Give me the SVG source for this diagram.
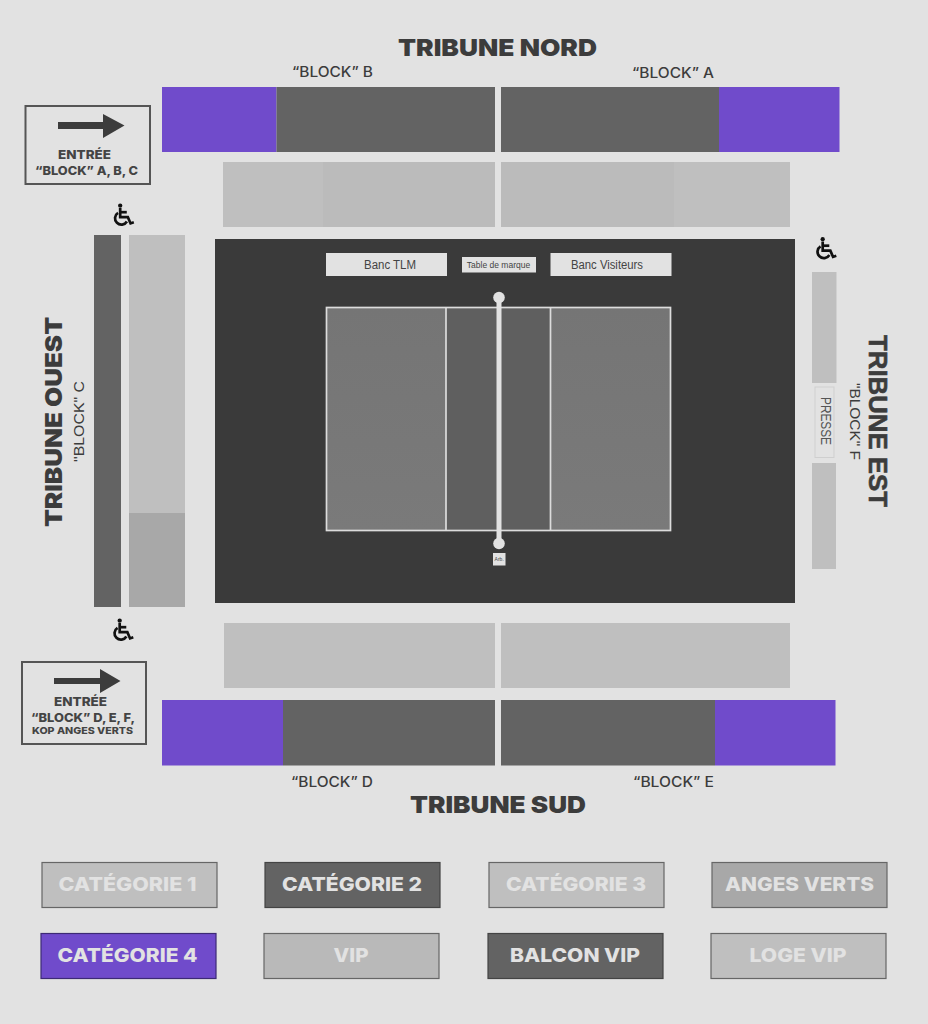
<svg xmlns="http://www.w3.org/2000/svg" xmlns:xlink="http://www.w3.org/1999/xlink" width="928" height="1024" viewBox="0 0 928 1024">
<style>
.purple{fill:#704bcb}.dark{fill:#636363}.light{fill:#bfbfbf}.mid{fill:#a8a8a8}
text{font-family:Inter,"Liberation Sans",sans-serif;fill:#3c3c3c}
.title{font-size:23.5px;font-weight:900}
.block{font-size:14px;font-weight:500}
.arial{font-family:"Liberation Sans",Arial,sans-serif}
.entry{font-size:12px;font-weight:800;text-anchor:middle;fill:#444}
.box{fill:none;stroke:#555;stroke-width:2}
.arrow{fill:#3c3c3c}
.bench{fill:#e2e2e2}
.bt{font-family:"Liberation Sans",Arial,sans-serif;font-size:12px;fill:#444;text-anchor:middle}
.legbox{stroke:#666;stroke-width:1.2}
.legt{font-size:19px;font-weight:800;fill:#e2e2e2;text-anchor:middle}
.cline{fill:none;stroke:#dcdcdc;stroke-width:1.700}
</style>
<defs>
<linearGradient id="courtL" x1="0" y1="0" x2="0" y2="1"><stop offset="0" stop-color="#757575"/><stop offset="1" stop-color="#7a7a7a"/></linearGradient>
<g id="wheelchair" fill="none" stroke="#111" stroke-width="2.500" transform="scale(1.08)">
<circle cx="-2.6" cy="-8.6" r="2" fill="#111" stroke="none"/>
<path d="M-2.6,-6.5V2H4.5L7,7.8L10,6.8"/>
<path d="M-2.6,-2.6H3.5"/>
<path d="M-4.6,-2A5.9,5.9 0 1 0 3.6,6"/>
</g>
</defs>
<rect width="928" height="1024" fill="#e2e2e2"/>

<g id="tribune-nord">
<text class="title" x="398" y="56" textLength="199" lengthAdjust="spacingAndGlyphs">TRIBUNE NORD</text>
<text class="block" x="292" y="77" textLength="81" lengthAdjust="spacingAndGlyphs">“BLOCK” B</text>
<text class="block" x="632" y="78" textLength="82" lengthAdjust="spacingAndGlyphs">“BLOCK” A</text>
<rect class="purple" x="162" y="87" width="114.500" height="65"/>
<rect class="dark" x="276.500" y="87" width="218.500" height="65"/>
<rect class="dark" x="501" y="87" width="218" height="65"/>
<rect class="purple" x="719" y="87" width="120.500" height="65"/>
<rect class="light" x="223" y="162" width="100" height="65"/>
<rect x="323" y="162" width="172" height="65" fill="#bbb"/>
<rect x="501" y="162" width="173" height="65" fill="#bbb"/>
<rect class="light" x="674" y="162" width="116" height="65"/>
</g>

<g id="entree-abc">
<rect class="box" x="25.500" y="106" width="124.500" height="78"/>
<path class="arrow" d="M58,122H103V114L124.500,125.500L103,138V129H58Z"/>
<text class="entry" x="84.500" y="159" textLength="53" lengthAdjust="spacingAndGlyphs">ENTRÉE</text>
<text class="entry" x="86.500" y="175" textLength="103" lengthAdjust="spacingAndGlyphs">“BLOCK” A, B, C</text>
</g>

<g id="pmr-ouest-haut"><use href="#wheelchair" x="123" y="215"/></g>
<g id="pmr-est"><use href="#wheelchair" x="825.500" y="248.500"/></g>
<g id="pmr-ouest-bas"><use href="#wheelchair" x="122.500" y="630"/></g>

<g id="tribune-ouest">
<text class="title" transform="translate(62,527) rotate(-90)" textLength="210" lengthAdjust="spacingAndGlyphs">TRIBUNE OUEST</text>
<text class="block arial" transform="translate(84,462) rotate(-90)" textLength="81" lengthAdjust="spacingAndGlyphs">"BLOCK" C</text>
<rect class="dark" x="94" y="235" width="27" height="372"/>
<rect class="light" x="129" y="235" width="56" height="278"/>
<rect class="mid" x="129" y="513" width="56" height="94"/>
</g>

<g id="terrain">
<rect x="215" y="239" width="580" height="364" fill="#3a3a3a"/>
<g id="banc-tlm"><rect class="bench" x="326" y="253" width="121" height="23"/><text class="bt" x="390" y="269" textLength="52" lengthAdjust="spacingAndGlyphs">Banc TLM</text></g>
<g id="table-marque"><rect class="bench" x="462" y="257" width="74" height="15.500"/><text class="bt" x="498.500" y="268" style="font-size:8.500px">Table de marque</text></g>
<g id="banc-visiteurs"><rect class="bench" x="550.500" y="253" width="121" height="23"/><text class="bt" x="607" y="269" textLength="72" lengthAdjust="spacingAndGlyphs">Banc Visiteurs</text></g>
<rect x="326.500" y="307.500" width="120" height="223" fill="url(#courtL)"/>
<rect x="446.500" y="307.500" width="104" height="223" fill="#5f5f5f"/>
<rect x="550.500" y="307.500" width="120" height="223" fill="url(#courtL)"/>
<rect class="cline" x="326.500" y="307.500" width="344" height="223"/>
<path class="cline" d="M446,307.500V530.500M550.500,307.500V530.500"/>
<rect x="496.500" y="297" width="5" height="246" fill="#e2e2e2"/>
<circle cx="499" cy="297.500" r="5.800" fill="#e2e2e2"/>
<circle cx="499" cy="543.500" r="5.800" fill="#e2e2e2"/>
<g id="arbitre"><rect class="bench" x="493" y="553" width="12.500" height="12.500"/><text class="bt" x="499.200" y="561" style="font-size:5px">Arb.</text></g>
</g>

<g id="tribune-est">
<rect class="light" x="812" y="272" width="24.500" height="111"/>
<g id="presse">
<rect x="815" y="387" width="19" height="70.500" fill="#e2e2e2" stroke="#cfcfcf"/>
<text class="arial" transform="translate(821,397) rotate(90)" style="font-size:14.500px;fill:#555" textLength="48" lengthAdjust="spacingAndGlyphs">PRESSE</text>
</g>
<rect class="light" x="812" y="463" width="24" height="106"/>
<text class="block arial" transform="translate(850,383) rotate(90)" textLength="77" lengthAdjust="spacingAndGlyphs">"BLOCK" F</text>
<text class="arial" transform="translate(868.500,335) rotate(90)" style="font-size:26px;font-weight:700" stroke="#3c3c3c" stroke-width=".6" textLength="172" lengthAdjust="spacingAndGlyphs">TRIBUNE EST</text>
</g>

<g id="tribune-sud">
<rect class="light" x="224" y="623" width="271" height="65"/>
<rect class="light" x="501" y="623" width="289" height="65"/>
<rect class="purple" x="162" y="700" width="121" height="65.500"/>
<rect class="dark" x="283" y="700" width="212" height="65.500"/>
<rect class="dark" x="501" y="700" width="214" height="65.500"/>
<rect class="purple" x="715" y="700" width="120.500" height="65.500"/>
<text class="block" x="291" y="787" textLength="82" lengthAdjust="spacingAndGlyphs">“BLOCK” D</text>
<text class="block" x="633" y="787" textLength="81" lengthAdjust="spacingAndGlyphs">“BLOCK” E</text>
<text class="title" x="410" y="813" textLength="176" lengthAdjust="spacingAndGlyphs">TRIBUNE SUD</text>
</g>

<g id="entree-def">
<rect class="box" x="22" y="662" width="124" height="82"/>
<path class="arrow" d="M54,678H100V669L120.500,681L100,693V684H54Z"/>
<text class="entry" x="80.500" y="706" textLength="53" lengthAdjust="spacingAndGlyphs">ENTRÉE</text>
<text class="entry" x="83" y="722" textLength="104" lengthAdjust="spacingAndGlyphs">“BLOCK” D, E, F,</text>
<text class="entry" x="82.500" y="734" style="font-size:9.500px" textLength="101" lengthAdjust="spacingAndGlyphs">KOP ANGES VERTS</text>
</g>

<g id="legende">
<g id="leg-cat1"><rect class="legbox light" x="42" y="862.500" width="175" height="45"/><text class="legt" x="127.500" y="891" textLength="138" lengthAdjust="spacingAndGlyphs">CATÉGORIE 1</text></g>
<g id="leg-cat2"><rect class="legbox dark" style="stroke:#444" x="265" y="862.500" width="175" height="45"/><text class="legt" x="352" y="891" textLength="140" lengthAdjust="spacingAndGlyphs">CATÉGORIE 2</text></g>
<g id="leg-cat3"><rect class="legbox light" x="489" y="862.500" width="175" height="45"/><text class="legt" x="576" y="891" textLength="140" lengthAdjust="spacingAndGlyphs">CATÉGORIE 3</text></g>
<g id="leg-anges"><rect class="legbox mid" x="712" y="862.500" width="175" height="45"/><text class="legt" x="799.500" y="891" textLength="149" lengthAdjust="spacingAndGlyphs">ANGES VERTS</text></g>
<g id="leg-cat4"><rect class="legbox purple" style="stroke:#3d2a75" x="41" y="933.500" width="175" height="45"/><text class="legt" x="127.500" y="962" textLength="140" lengthAdjust="spacingAndGlyphs">CATÉGORIE 4</text></g>
<g id="leg-vip"><rect class="legbox light" style="fill:#b9b9b9" x="264" y="933.500" width="175" height="45"/><text class="legt" x="351" y="962" textLength="35" lengthAdjust="spacingAndGlyphs">VIP</text></g>
<g id="leg-balcon"><rect class="legbox dark" style="stroke:#444" x="488" y="933.500" width="175" height="45"/><text class="legt" x="575" y="962" textLength="130" lengthAdjust="spacingAndGlyphs">BALCON VIP</text></g>
<g id="leg-loge"><rect class="legbox light" x="711" y="933.500" width="175" height="45"/><text class="legt" x="798" y="962" textLength="97" lengthAdjust="spacingAndGlyphs">LOGE VIP</text></g>
</g>
</svg>
